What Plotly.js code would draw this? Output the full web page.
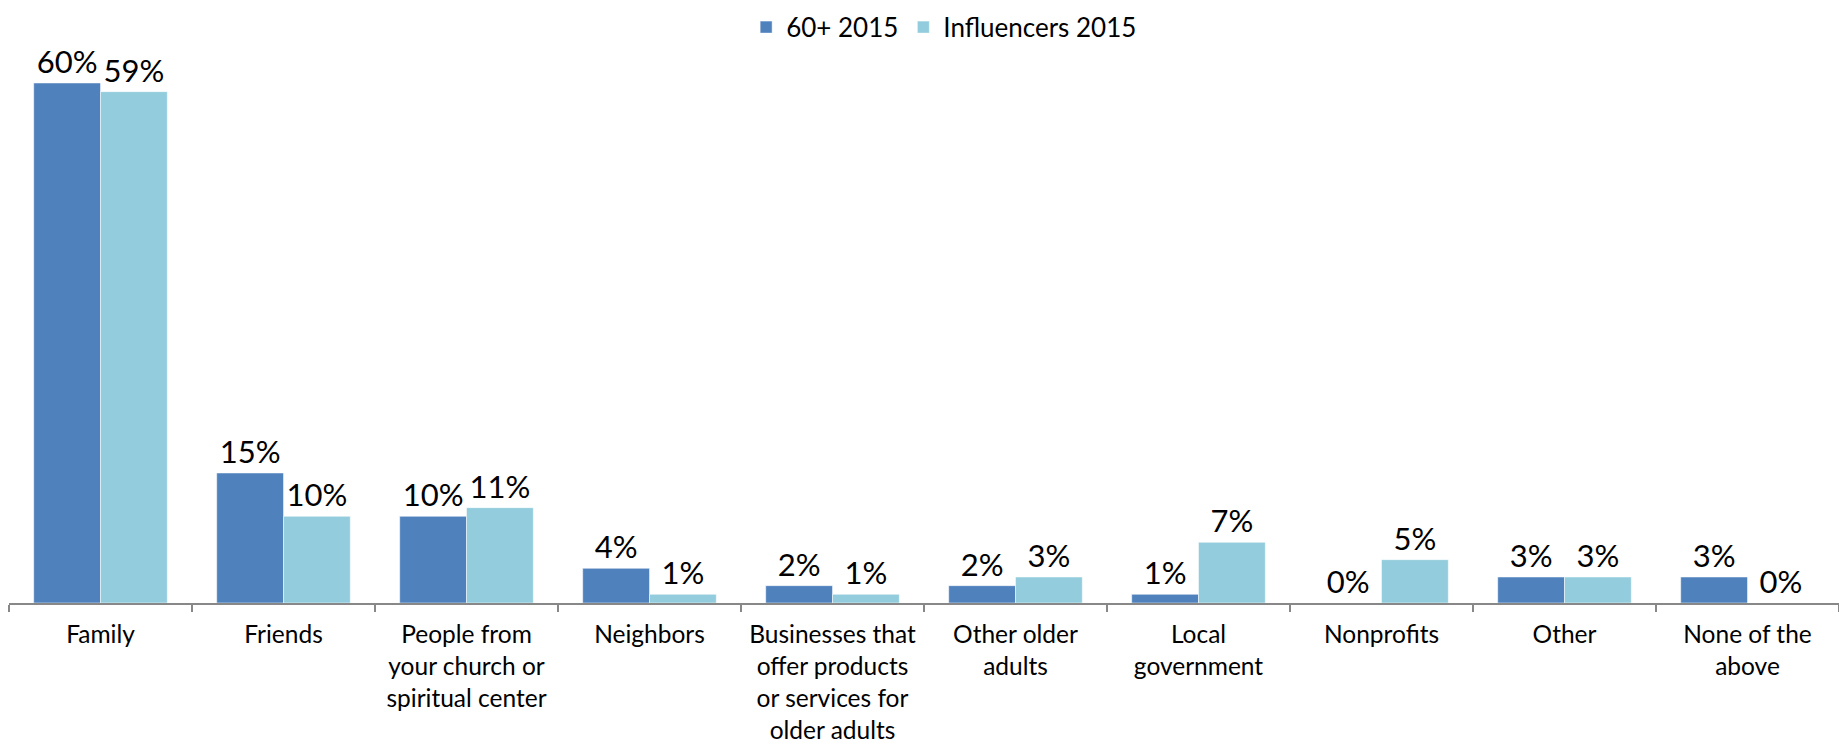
<!DOCTYPE html>
<html>
<head>
<meta charset="utf-8">
<script src="https://cdn.plot.ly/plotly-3.0.1.min.js"></script>
<style>html,body{margin:0;padding:0;background:#fff;}#chart{width:1839px;height:744px;}</style>
</head>
<body>
<div id="chart"></div>
<script>
const categories = [
  "Family",
  "Friends",
  "People from<br>your church or<br>spiritual center",
  "Neighbors",
  "Businesses that<br>offer products<br>or services for<br>older adults",
  "Other older<br>adults",
  "Local<br>government",
  "Nonprofits",
  "Other",
  "None of the<br>above"
];
const seriesNames = ["60+ 2015", "Influencers 2015"];
const values60 = [60, 15, 10, 4, 2, 2, 1, 0, 3, 3];
const valuesInfluencers = [59, 10, 11, 1, 1, 3, 7, 5, 3, 0];

const fontFam = "Lato, 'Open Sans', sans-serif";
function mk(name, vals, color) {
  return {
    type: "bar",
    name: name,
    x: categories,
    y: vals,
    marker: {color: color, line: {color: "#ffffff", width: 0.5}},
    text: vals.map(v => v + "%"),
    textposition: "outside",
    textfont: {family: fontFam, size: 31, color: "#000"},
    cliponaxis: false
  };
}
const data = [
  mk(seriesNames[0], values60, "#4F81BD"),
  mk(seriesNames[1], valuesInfluencers, "#93CDDD")
];
const layout = {
  width: 1839, height: 744,
  margin: {l: 9, r: 0, t: 60, b: 141, autoexpand: false},
  paper_bgcolor: "#fff", plot_bgcolor: "#fff",
  barmode: "group", bargap: 0.27, bargroupgap: 0,
  showlegend: true,
  legend: {orientation: "h", x: 0.511, xanchor: "center", yref: "container", y: 0.995, yanchor: "top",
           font: {family: fontFam, size: 26, color: "#000"}, itemwidth: 30, tracegroupgap: 0},
  xaxis: {
    type: "category", tickson: "boundaries", ticks: "outside", ticklen: 7, tickwidth: 2, tickcolor: "#888",
    showline: true, linecolor: "#888", linewidth: 2, showgrid: false,
    tickfont: {family: fontFam, size: 24.5, color: "#000"}, tickangle: 0, ticklabelstandoff: 9
  },
  yaxis: {range: [0, 62.65], visible: false, showgrid: false, zeroline: false, fixedrange: true}
};
Plotly.newPlot("chart", data, layout, {displayModeBar: false, staticPlot: true});
</script>
</body>
</html>
